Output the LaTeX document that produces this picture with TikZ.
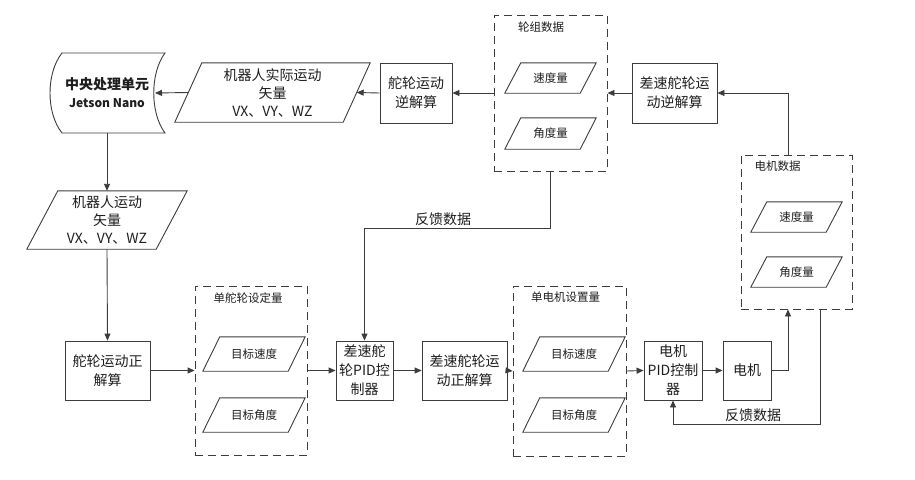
\documentclass[tikz,border=0pt]{standalone}
\usepackage{fontspec}
\setmainfont{Noto Sans CJK SC}
\usetikzlibrary{arrows.meta,calc}
\definecolor{lc}{HTML}{3C3C3C}
\definecolor{tc}{HTML}{1E1E1E}
\newcommand\drawpara[2]{\draw[line] ([xshift=#2]#1.north west) -- (#1.north east) -- ([xshift=-#2]#1.south east) -- (#1.south west) -- cycle;}
\begin{document}
\begin{tikzpicture}[x=1pt,y=-1pt,
  line/.style={draw=lc, line width=0.9pt},
  box/.style={draw=lc, line width=0.9pt, align=center, inner sep=0pt, text=tc, font=\fontsize{14}{19}\selectfont},
  para/.style={inner sep=0pt, align=center, text=tc},
  big/.style={font=\fontsize{14}{18}\selectfont},
  small/.style={font=\fontsize{11.5}{14}\selectfont},
  grp/.style={draw=lc, line width=0.9pt, dash pattern=on 8pt off 5pt, inner sep=0pt},
  lbl/.style={inner sep=0pt, text=tc},
  arr/.style={draw=lc, line width=0.9pt, -{Triangle[length=7pt,width=6pt]}}]
\fill[white] (0,0) rectangle (915,479);
\useasboundingbox (0,0) rectangle (915,479);

% CPU
\node[para, minimum width=100pt, minimum height=80pt, font=\bfseries\fontsize{14}{18}\selectfont] (cpu) at (107,93) {中央处理单元\\{\fontsize{12}{18}\selectfont Jetson Nano}};
\draw[line] (62,53) -- (165,53) .. controls (150,73) and (150,113) .. (165,133) -- (62,133) .. controls (46,113) and (46,73) .. (62,53) -- cycle;
\coordinate (cpuin) at (155,93);

% top row
\node[para, big, minimum width=195pt, minimum height=59pt] (p1) at (272.5,92.5) {机器人实际运动\\矢量\\VX、VY、WZ};
\drawpara{p1}{27pt}
\node[box, minimum width=72pt, minimum height=60pt] (inv) at (416,93) {舵轮运动\\逆解算};

\node[grp, minimum width=113pt, minimum height=156pt] (g1) at (550.5,93) {};
\node[lbl, small] (g1l) at (541,27) {轮组数据};
\node[para, small, minimum width=91pt, minimum height=30pt] (g1s) at (550.5,78) {速度量};
\drawpara{g1s}{16pt}
\node[para, small, minimum width=91pt, minimum height=31pt] (g1a) at (550.5,133.5) {角度量};
\drawpara{g1a}{16pt}

\node[box, minimum width=85pt, minimum height=60pt] (dinv) at (674.5,93) {差速舵轮运\\动逆解算};

\node[grp, minimum width=111pt, minimum height=154pt] (g2) at (796.5,232) {};
\node[lbl, small] (g2l) at (777.5,166) {电机数据};
\node[para, small, minimum width=91pt, minimum height=30pt] (g2s) at (796.5,217) {速度量};
\drawpara{g2s}{16pt}
\node[para, small, minimum width=91pt, minimum height=30pt] (g2a) at (796.5,272) {角度量};
\drawpara{g2a}{16pt}

% left column
\node[para, big, minimum width=160pt, minimum height=58pt] (p2) at (107,220) {机器人运动\\矢量\\VX、VY、WZ};
\drawpara{p2}{31pt}
\node[box, minimum width=85pt, minimum height=59pt] (fwd) at (107.5,370.5) {舵轮运动正\\解算};

% bottom row
\node[grp, minimum width=112pt, minimum height=169pt] (g3) at (251,370.5) {};
\node[lbl, small] (g3l) at (248,298) {单舵轮设定量};
\node[para, small, minimum width=102pt, minimum height=34pt] (g3s) at (254,354) {目标速度};
\drawpara{g3s}{17pt}
\node[para, small, minimum width=102pt, minimum height=34pt] (g3a) at (254,415) {目标角度};
\drawpara{g3a}{17pt}

\node[box, minimum width=57pt, minimum height=59pt] (pid1) at (364.5,370.5) {差速舵\\轮PID控\\制器};
\node[box, minimum width=85pt, minimum height=59pt] (dfwd) at (464.5,370.5) {差速舵轮运\\动正解算};

\node[grp, minimum width=113pt, minimum height=170pt] (g4) at (569.5,371) {};
\node[lbl, small] (g4l) at (565.5,297) {单电机设置量};
\node[para, small, minimum width=102pt, minimum height=34pt] (g4s) at (574,354) {目标速度};
\drawpara{g4s}{17pt}
\node[para, small, minimum width=102pt, minimum height=34pt] (g4a) at (574,415) {目标角度};
\drawpara{g4a}{17pt}

\node[box, minimum width=58pt, minimum height=59pt] (pid2) at (673,370.5) {电机\\PID控制\\器};
\node[box, minimum width=48pt, minimum height=59pt] (motor) at (747,370.5) {电机};

% connectors
\draw[arr] (inv.west) -- ([xshift=-13.5pt]p1.east);
\draw[arr] ([xshift=13.5pt]p1.west) -- (cpuin);
\draw[arr] (g1.west) -- (inv.east);
\draw[arr] (dinv.west) -- (g1.east);
\draw[arr] ([xshift=-8.5pt]g2.north) |- (dinv.east);
\draw[arr] (cpu.south) -- (p2.north);
\draw[arr] (p2.south) -- (fwd.north);
\draw[arr] (fwd.east) -- (g3.west);
\draw[arr] (g3.east) -- (pid1.west);
\coordinate (fb1y) at (0,228);
\draw[arr] (g1.south) -- (g1.south |- fb1y) -| (pid1.north);
\node[lbl, big] (fb1) at (443,219) {反馈数据};
\draw[arr] (pid1.east) -- (dfwd.west);
\draw[arr] (dfwd.east) -- (g4.west);
\draw[arr] (g4.east) -- (pid2.west);
\draw[arr] (pid2.east) -- (motor.west);
\draw[arr] (motor.east) -| ([xshift=-8.5pt]g2.south);
\coordinate (g2fb) at ([xshift=23.5pt]g2.south);
\coordinate (fb2y) at (0,424);
\draw[arr] (g2fb) -- (g2fb |- fb2y) -| (pid2.south);
\node[lbl, big] (fb2) at (753,415) {反馈数据};
\end{tikzpicture}
\end{document}
